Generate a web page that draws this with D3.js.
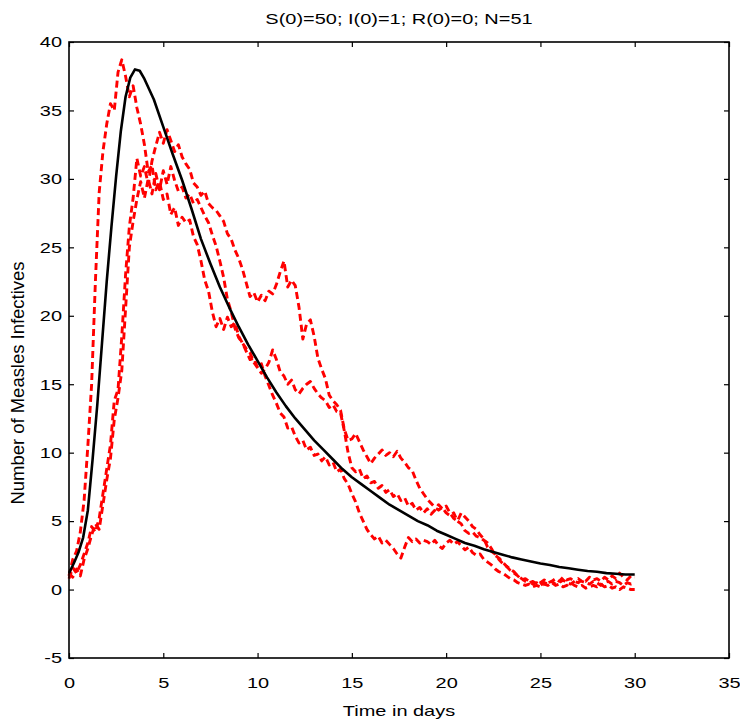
<!DOCTYPE html>
<html>
<head>
<meta charset="UTF-8">
<title>SIR measles</title>
<script src="https://d3js.org/d3.v7.min.js"></script>
<style>
  body { margin: 0; background: #fff; }
  text { font-family: "Liberation Sans", Arial, Helvetica, sans-serif; fill: #000; }
</style>
</head>
<body>
<svg id="chart" width="740" height="722"></svg>
<script>
    const width = 740;
    const height = 722;
    const margin = { top: 42, right: 11, bottom: 64, left: 69 };

    const titleText = "S(0)=50; I(0)=1; R(0)=0; N=51";
    const xLabelText = "Time in days";
    const yLabelText = "Number of Measles Infectives";
    const xTicks = [0, 5, 10, 15, 20, 25, 30, 35];
    const yTicks = [-5, 0, 5, 10, 15, 20, 25, 30, 35, 40];

    // deterministic SIR solution [t, I]
    const odeCurve = [
        [0, 1.2], [0.25, 1.9], [0.5, 2.7], [0.75, 3.8], [1, 5.8], [1.25, 9.5], [1.5, 13.5],
        [1.75, 18], [2, 22.5], [2.25, 26.5], [2.5, 30.2], [2.75, 33.5], [3, 36], [3.25, 37.4],
        [3.5, 38], [3.75, 37.9], [4, 37.3], [4.5, 35.8], [5, 33.8], [5.5, 31.8], [6, 29.9],
        [6.5, 27.8], [7, 25.6], [7.5, 23.8], [8, 22.1], [8.5, 20.6], [9, 19.2], [9.5, 17.9],
        [10, 16.7], [10.5, 15.5], [11, 14.4], [11.5, 13.4], [12, 12.5], [12.5, 11.7], [13, 10.9],
        [13.5, 10.2], [14, 9.5], [14.5, 8.8], [15, 8.2], [15.5, 7.7], [16, 7.2], [16.5, 6.7],
        [17, 6.2], [17.5, 5.8], [18, 5.4], [18.5, 5.0], [19, 4.7], [19.5, 4.3], [20, 4.0],
        [20.5, 3.7], [21, 3.4], [21.5, 3.2], [22, 2.95], [22.5, 2.75], [23, 2.55], [23.5, 2.35],
        [24, 2.2], [24.5, 2.05], [25, 1.9], [25.5, 1.8], [26, 1.65], [26.5, 1.55], [27, 1.45],
        [27.5, 1.35], [28, 1.3], [28.5, 1.2], [29, 1.15], [29.5, 1.1], [30, 1.1]
    ];

    // stochastic runs, one value every 0.2 days from t=0 to t=30
    const simStep = 0.2;
    const runA = [
        1.0, 2.2, 2.8, 4.2, 6.5, 10.5, 15.0, 22.5, 29.0, 32.0,
        34.0, 35.5, 35.0, 37.8, 38.7, 37.5, 36.0, 36.8, 35.2, 34.0,
        32.5, 30.5, 31.0, 29.2, 29.8, 28.5, 28.9, 27.4, 27.9, 26.6,
        27.2, 26.8, 27.0, 25.8, 25.2, 24.0, 22.6, 21.8, 20.3, 19.2,
        19.8, 19.0, 19.9, 19.2, 19.5, 18.5, 18.0, 17.4, 16.8, 16.9,
        16.2, 16.5, 15.6, 14.9, 14.2, 13.6, 12.9, 12.6, 11.8, 11.9,
        11.2, 10.7, 10.9, 10.2, 10.4, 9.8, 9.9, 9.4, 9.7, 9.1,
        9.3, 8.6, 8.8, 8.1, 7.7, 7.0, 6.4, 5.6, 5.0, 4.4,
        4.0, 3.7, 3.9, 3.4, 3.6, 3.3, 3.0, 2.6, 2.3, 3.1,
        3.8, 3.5, 3.7, 3.4, 3.6, 3.5, 3.3, 3.6, 3.2, 3.0,
        3.4, 3.6, 3.3, 3.5, 3.2, 2.9, 3.1, 2.7, 2.5, 2.6,
        2.2, 2.0, 1.8, 1.5, 1.3, 1.2, 1.0, 0.8, 0.7, 0.5,
        0.4, 0.3, 0.4, 0.2, 0.3, 0.2, 0.4, 0.3, 0.5, 0.3,
        0.4, 0.2, 0.3, 0.5, 0.3, 0.2, 0.3, 0.1, 0.2, 0.3,
        0.2, 0.4, 0.2, 0.3, 0.1, 0.2, 0.0, 0.2, 0.1, 0.0,
        0.0
    ];
    const runB = [
        0.8, 1.6, 1.2, 1.8, 2.6, 3.4, 4.6, 4.2, 5.2, 7.0,
        8.8, 10.6, 13.8, 14.6, 18.5, 23.0, 26.5, 28.6, 31.5, 30.2,
        30.9, 29.6, 31.3, 32.4, 33.4, 32.6, 33.6, 32.8, 32.0, 32.5,
        31.6, 31.1, 30.7, 29.7, 29.4, 28.8, 29.1, 28.2, 27.9, 27.7,
        27.3, 26.9, 26.0, 25.6, 24.8, 24.2, 23.4, 22.4, 21.4, 21.7,
        21.0, 21.5, 21.1, 21.8, 21.6, 22.3, 23.2, 24.0, 22.1, 22.6,
        22.2, 20.6, 18.3, 19.4, 19.7, 18.5, 16.9, 16.1, 15.4, 14.2,
        13.8, 13.5, 13.1, 11.7, 10.9, 11.0, 11.4, 10.8, 10.2, 9.7,
        9.2, 9.6, 9.9, 10.2, 9.8, 10.0, 9.7, 10.1, 9.6, 9.3,
        8.9, 8.7, 8.0, 7.4, 7.0, 6.6, 6.3, 6.0, 5.8, 6.0,
        5.6, 5.4, 5.6, 5.0, 4.8, 4.3, 4.1, 4.2, 3.9, 3.8,
        3.6, 3.4, 3.0, 2.5, 2.3, 2.0, 1.7, 1.5, 1.3, 1.0,
        0.8, 0.6, 0.5, 0.6, 0.4, 0.5, 0.7, 0.5, 0.6, 0.8,
        0.6, 0.9, 0.7, 0.8, 0.6, 0.5, 0.7, 0.6, 0.9, 0.7,
        0.8, 0.6, 0.9, 0.7, 1.0, 0.8, 1.2, 0.9, 0.7, 1.0,
        0.9
    ];
    const runC = [
        1.2, 0.9, 1.5, 1.0, 2.2, 3.0, 4.0, 4.8, 4.4, 6.2,
        8.0, 9.6, 12.4, 14.0, 16.0, 20.5, 25.0, 26.9, 28.5, 29.8,
        28.6, 30.0, 28.9, 30.4, 29.2, 30.6, 29.6, 30.9, 29.9, 29.1,
        29.4, 28.6, 28.9, 28.2, 28.5, 27.9, 27.3, 26.8, 25.9, 25.1,
        24.0, 22.8, 21.2, 20.3, 19.1, 18.4, 18.0, 17.6, 17.3, 16.6,
        16.2, 15.8, 16.1, 16.6, 17.5, 16.8, 15.9, 15.6, 15.0, 15.3,
        14.6, 14.3, 14.7, 15.0, 15.2, 14.7, 14.3, 14.0, 13.8, 13.3,
        13.5, 13.0, 12.9, 11.6, 10.0, 8.9, 8.6, 8.8, 8.1, 8.3,
        7.8, 7.9, 7.4, 7.6, 7.1, 7.3, 6.8, 7.0, 6.5, 6.7,
        6.1, 6.3, 5.8, 6.0, 5.6, 5.9, 5.5, 5.8, 6.2, 5.9,
        6.1, 5.6, 5.2, 5.0, 5.6, 5.3, 5.0, 4.6, 4.4, 4.0,
        3.7, 3.1, 2.8, 2.6, 2.2, 1.9, 1.7, 1.4, 1.2, 1.0,
        0.7, 0.8, 0.6, 0.4, 0.5, 0.3, 0.5, 0.4, 0.6, 0.4,
        0.5, 0.7, 0.5, 0.4, 0.6, 0.8, 0.6, 0.5, 0.4, 0.6,
        0.5, 0.3, 0.5, 0.6, 0.4, 0.6, 0.5, 0.3, 0.5, 0.4,
        0.5
    ];
    const runs = [runA, runB, runC];

    const xStretch = 1.33; // the original figure text is drawn wide

    const svg = d3.select("#chart");
    const x = d3.scaleLinear().domain([0, 35]).range([margin.left, width - margin.right]);
    const y = d3.scaleLinear().domain([-5, 40]).range([height - margin.bottom, margin.top]);

    function widen(sel) {
        sel.each(function () {
            const w = this.getComputedTextLength();
            d3.select(this).attr("textLength", w * xStretch).attr("lengthAdjust", "spacingAndGlyphs");
        });
    }

    // axes, ticks pointing inward on all four sides
    const plain = d => String(d); // hyphen minus like the original, not U+2212
    const gx = svg.append("g")
        .attr("transform", `translate(0,${y(-5)})`)
        .call(d3.axisBottom(x).tickValues(xTicks).tickFormat(plain).tickSizeInner(-5).tickSizeOuter(0).tickPadding(19));
    const gy = svg.append("g")
        .attr("transform", `translate(${x(0)},0)`)
        .call(d3.axisLeft(y).tickValues(yTicks).tickFormat(plain).tickSizeInner(-5).tickSizeOuter(0).tickPadding(7));
    const gxTop = svg.append("g")
        .attr("transform", `translate(0,${y(40)})`)
        .call(d3.axisTop(x).tickValues(xTicks).tickSizeInner(-5).tickSizeOuter(0).tickFormat(""));
    const gyRight = svg.append("g")
        .attr("transform", `translate(${x(35)},0)`)
        .call(d3.axisRight(y).tickValues(yTicks).tickSizeInner(-5).tickSizeOuter(0).tickFormat(""));

    [gx, gy, gxTop, gyRight].forEach(g => {
        g.select(".domain").remove();
        g.selectAll(".tick line").attr("stroke", "#000").attr("stroke-width", 1.2);
    });
    gx.selectAll("text").attr("font-size", 15).attr("font-family", null).call(widen);
    gy.selectAll("text").attr("font-size", 15).attr("font-family", null).call(widen);

    // data
    const line = d3.line().x(d => x(d[0])).y(d => y(d[1]));

    svg.append("g").selectAll("path")
        .data(runs)
        .enter().append("path")
        .attr("d", r => line(r.map((v, i) => [i * simStep, v])))
        .attr("fill", "none")
        .attr("stroke", "#ff0000")
        .attr("stroke-width", 2.9)
        .attr("stroke-dasharray", "7,4")
        .attr("stroke-linejoin", "round");

    svg.append("path")
        .attr("d", line(odeCurve))
        .attr("fill", "none")
        .attr("stroke", "#000")
        .attr("stroke-width", 2.6)
        .attr("stroke-linejoin", "round");

    // box
    svg.append("rect")
        .attr("x", x(0)).attr("y", y(40))
        .attr("width", x(35) - x(0)).attr("height", y(-5) - y(40))
        .attr("fill", "none").attr("stroke", "#000").attr("stroke-width", 1.6);

    // labels
    svg.append("text")
        .attr("x", (x(0) + x(35)) / 2).attr("y", 24)
        .attr("text-anchor", "middle").attr("font-size", 15)
        .text(titleText).call(widen);

    svg.append("text")
        .attr("x", (x(0) + x(35)) / 2).attr("y", 716)
        .attr("text-anchor", "middle").attr("font-size", 15)
        .text(xLabelText).call(widen);

    svg.append("text")
        .attr("transform", `translate(24,383) scale(1.1,1) rotate(-90)`)
        .attr("text-anchor", "middle").attr("font-size", 16)
        .attr("textLength", 243).attr("lengthAdjust", "spacingAndGlyphs")
        .text(yLabelText);
</script>
</body>
</html>
